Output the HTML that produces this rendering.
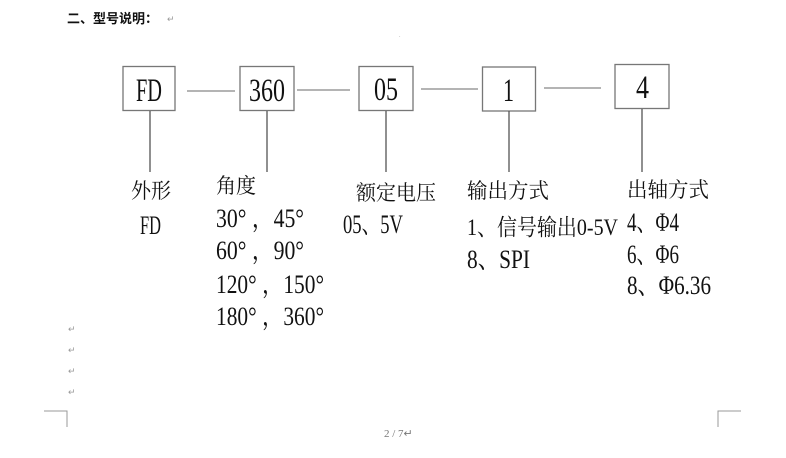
<!DOCTYPE html>
<html><head><meta charset="utf-8"><style>
html,body{margin:0;padding:0;background:#fff;width:786px;height:458px;overflow:hidden}
svg text{font-family:"Liberation Serif","Noto Serif CJK SC",serif;fill:#111}
</style></head><body>
<svg width="786" height="458" viewBox="0 0 786 458" xmlns="http://www.w3.org/2000/svg">
<text x="67" y="23" font-size="13" font-weight="bold" style="font-family:'Liberation Sans','Noto Sans CJK SC',sans-serif">二、型号说明：</text>
<text x="167" y="22" font-size="9" style="fill:#999">↵</text>
<g fill="#fff" stroke="#777" stroke-width="1.3">
<rect x="123" y="66.5" width="52" height="44"/>
<rect x="240" y="66.5" width="54" height="44"/>
<rect x="359" y="66.5" width="54" height="44"/>
<rect x="482.5" y="67" width="53" height="44"/>
<rect x="615" y="64.5" width="54" height="44"/>
</g>
<g stroke="#888" stroke-width="1.2">
<line x1="187" y1="91" x2="235" y2="91"/>
<line x1="297" y1="90" x2="350" y2="90"/>
<line x1="421" y1="89" x2="478" y2="89"/>
<line x1="544" y1="88" x2="601" y2="88"/>
</g>
<g stroke="#555" stroke-width="1.3">
<line x1="150" y1="111" x2="150" y2="172"/>
<line x1="267" y1="111" x2="267" y2="172"/>
<line x1="386" y1="111" x2="386" y2="172"/>
<line x1="509" y1="111" x2="509" y2="172"/>
<line x1="642" y1="109" x2="642" y2="172"/>
</g>
<g font-size="33">
<text x="136" y="101" textLength="26" lengthAdjust="spacingAndGlyphs">FD</text>
<text x="249" y="101" textLength="36" lengthAdjust="spacingAndGlyphs">360</text>
<text x="374" y="100" textLength="24" lengthAdjust="spacingAndGlyphs">05</text>
<text x="503" y="101" textLength="11" lengthAdjust="spacingAndGlyphs">1</text>
<text x="636" y="98" textLength="13" lengthAdjust="spacingAndGlyphs">4</text>
</g>
<g font-size="21">
<text x="131" y="198" textLength="40" lengthAdjust="spacingAndGlyphs">外形</text>
<text x="216" y="193" textLength="40" lengthAdjust="spacingAndGlyphs">角度</text>
<text x="356" y="200" textLength="80" lengthAdjust="spacingAndGlyphs">额定电压</text>
<text x="467" y="198" textLength="82" lengthAdjust="spacingAndGlyphs">输出方式</text>
<text x="627" y="197" textLength="82" lengthAdjust="spacingAndGlyphs">出轴方式</text>
</g>
<g font-size="26">
<text x="140" y="234" textLength="21" lengthAdjust="spacingAndGlyphs">FD</text>
<text x="216" y="227" textLength="88" lengthAdjust="spacingAndGlyphs">30° ，45°</text>
<text x="216" y="259" textLength="88" lengthAdjust="spacingAndGlyphs">60° ，90°</text>
<text x="216" y="293" textLength="108" lengthAdjust="spacingAndGlyphs">120° ，150°</text>
<text x="216" y="325" textLength="108" lengthAdjust="spacingAndGlyphs">180° ，360°</text>
<text x="343" y="233" textLength="60" lengthAdjust="spacingAndGlyphs">05、5V</text>
<text x="627" y="231" textLength="52" lengthAdjust="spacingAndGlyphs">4、Φ4</text>
<text x="627" y="263" textLength="52" lengthAdjust="spacingAndGlyphs">6、Φ6</text>
<text x="627" y="294" textLength="84" lengthAdjust="spacingAndGlyphs">8、Φ6.36</text>
<text x="467" y="268" textLength="63" lengthAdjust="spacingAndGlyphs">8、SPI</text>
</g>
<text x="467" y="235" font-size="23" textLength="151" lengthAdjust="spacingAndGlyphs">1、信号输出0-5V</text>
<g font-size="9">
<text x="68" y="332" style="fill:#999">↵</text>
<text x="68" y="353" style="fill:#999">↵</text>
<text x="68" y="374" style="fill:#999">↵</text>
<text x="68" y="395" style="fill:#999">↵</text>
</g>
<text x="399" y="37" font-size="6" style="fill:#999">.</text>
<g stroke="#999" stroke-width="1" fill="none">
<polyline points="44,411 67,411 67,427"/>
<polyline points="741,411 718,411 718,427"/>
</g>
<text x="384" y="437" font-size="11" style="fill:#777">2 / 7↵</text>
</svg>
</body></html>
